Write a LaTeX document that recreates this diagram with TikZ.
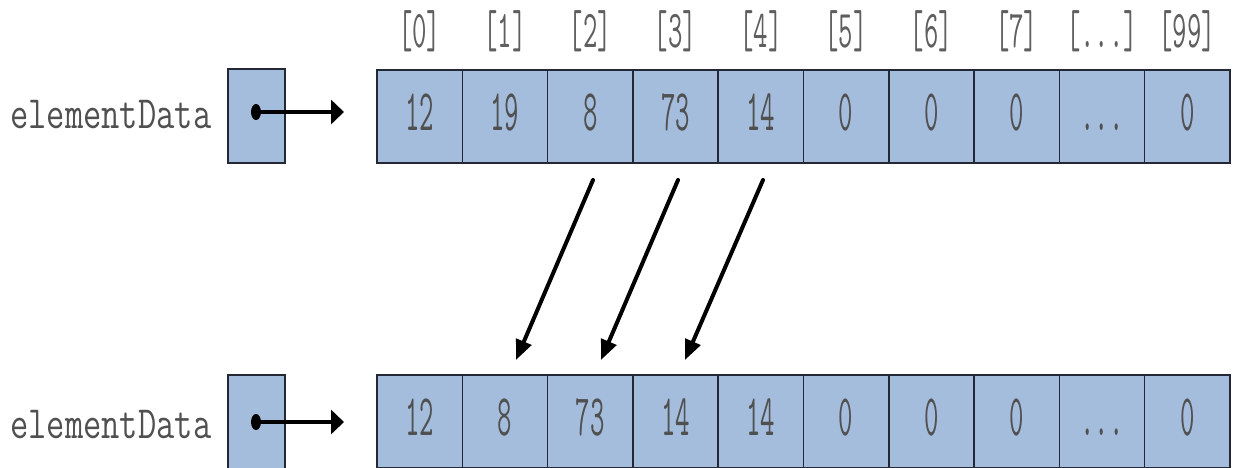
\documentclass[tikz,border=0pt]{standalone}
\usetikzlibrary{arrows.meta}
\definecolor{cellfill}{RGB}{164,189,221}
\definecolor{cellline}{RGB}{35,40,52}
\definecolor{txtgray}{RGB}{80,80,80}
\definecolor{idxgray}{RGB}{95,95,95}
\newcommand{\threedots}{...}
\newcommand{\numtxt}[1]{\scalebox{1}[2.1]{\fontsize{28}{28}\selectfont\ttfamily #1}}
\newcommand{\idxtxt}[1]{\scalebox{1}[1.9]{\fontsize{28}{28}\selectfont\ttfamily #1}}
\newcommand{\nametxt}[1]{\scalebox{1}[1.3]{\fontsize{35.5}{35.5}\selectfont\ttfamily #1}}
\begin{document}
\begin{tikzpicture}[x=1pt,y=-1pt,
  cell/.style={draw=cellline,fill=cellfill,line width=1.5pt,minimum width=85.3pt,
    minimum height=93pt,inner sep=0pt,outer sep=0pt,text=txtgray,text height=36pt,text depth=8pt},
  ptrbox/.style={draw=cellline,fill=cellfill,line width=1.5pt,minimum width=57pt,
    minimum height=94pt,inner sep=0pt,outer sep=0pt},
  idxlbl/.style={anchor=base,inner sep=0pt,text=idxgray},
  namelbl/.style={anchor=base west,inner sep=0pt,text=txtgray},
  ptrarrow/.style={line width=3.8pt,-{Triangle[length=13pt,width=24pt]}},
  movearrow/.style={line width=4pt,-{Triangle[length=20pt,width=16pt]}}]
\useasboundingbox (0,0) rectangle (1235,467);
% top array
\foreach \i/\v/\l in {0/12/0,1/19/1,2/8/2,3/73/3,4/14/4,5/0/5,6/0/6,7/0/7,8/\threedots/\threedots,9/0/99}{
  \node[cell] (t\i) at ({377+85.3*\i+42.65},116.5) {\numtxt{\v}};
  \node[idxlbl] (x\i) at ({377+85.3*\i+42.65},47) {\idxtxt{[\l]}};
}
% bottom array
\foreach \i/\v in {0/12,1/8,2/73,3/14,4/14,5/0,6/0,7/0,8/\threedots,9/0}{
  \node[cell] (b\i) at ({377+85.3*\i+42.65},421.5) {\numtxt{\v}};
}
% pointer boxes and labels
\node[namelbl] (n1) at (10,128) {\nametxt{elementData}};
\node[namelbl] (n2) at (10,438) {\nametxt{elementData}};
\node[ptrbox] (p1) at (256.5,116) {};
\node[ptrbox] (p2) at (256.5,422) {};
\coordinate (d1) at (256,112);
\coordinate (d2) at (256,422);
\coordinate (a1) at (344,112);
\coordinate (a2) at (344,422);
\fill[black] (d1) ellipse (5pt and 8pt);
\fill[black] (d2) ellipse (5pt and 8pt);
\draw[ptrarrow] (d1) -- (a1);
\draw[ptrarrow] (d2) -- (a2);
% shifting arrows
\coordinate (s1) at (593,180);
\coordinate (s2) at (678,180);
\coordinate (s3) at (763,180);
\coordinate (e1) at (516,360);
\coordinate (e2) at (601,360);
\coordinate (e3) at (685,360);
\draw[movearrow,line cap=round] (s1) -- (e1);
\draw[movearrow,line cap=round] (s2) -- (e2);
\draw[movearrow,line cap=round] (s3) -- (e3);
\end{tikzpicture}
\end{document}
